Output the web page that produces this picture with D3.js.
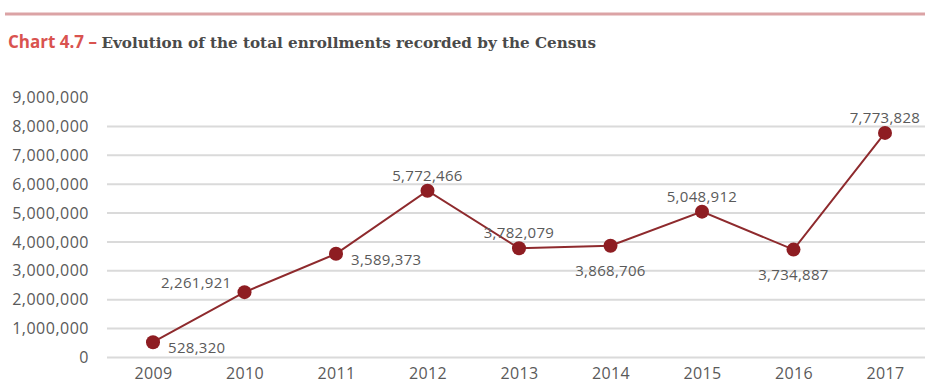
<!DOCTYPE html>
<html><head><meta charset="utf-8">
<script src="https://cdn.jsdelivr.net/npm/d3@7"></script>
<style>body{margin:0;background:#fff;}svg{display:block;}</style>
</head><body>
<script>
const years = ["2009","2010","2011","2012","2013","2014","2015","2016","2017"];
const enrollments = [528320, 2261921, 3589373, 5772466, 3782079, 3868706, 5048912, 3734887, 7773828];
const yTicks = [0,1000000,2000000,3000000,4000000,5000000,6000000,7000000,8000000,9000000];
const labelSide = ["right","left","right","above","above","below","above","below","above"];

const W = 925, H = 383;
const svg = d3.select("body").append("svg").attr("width", W).attr("height", H);

// top rule
svg.append("line").attr("x1",5).attr("x2",W).attr("y1",14).attr("y2",14)
  .attr("stroke","#dba3a5").attr("stroke-width",3);

// title
const t = svg.append("text").attr("x",8).attr("y",48);
t.append("tspan").text("Chart 4.7 – ").attr("fill","#d9534f").attr("font-family","Open Sans, sans-serif").attr("font-weight","bold").attr("font-size",17);
t.append("tspan").text("Evolution of the total enrollments recorded by the Census").attr("fill","#4a4a4a").attr("font-family","DejaVu Serif, serif").attr("font-weight","bold").attr("font-size",15.2);

const y = d3.scaleLinear().domain([0, 9000000]).range([357.5, 97.5]);
const x = d3.scalePoint().domain(years).range([153, 885]);

// gridlines (no line at top tick)
svg.append("g").selectAll("line").data(yTicks.filter(v => v < 9000000)).join("line")
  .attr("x1",107).attr("x2",W).attr("y1",d=>y(d)).attr("y2",d=>y(d))
  .attr("stroke","#dadada").attr("stroke-width",2);

// y axis
const fmt = d3.format(",");
const yAxis = d3.axisLeft(y).tickValues(yTicks).tickFormat(fmt).tickSize(0).tickPadding(0);
const gy = svg.append("g").attr("transform","translate(89,0)").call(yAxis);
gy.select(".domain").remove();
gy.selectAll("text").attr("font-family","Open Sans, sans-serif").attr("font-size",16).attr("letter-spacing",0.5).attr("fill","#5a5a5a");

// x axis
const xAxis = d3.axisBottom(x).tickSize(0).tickPadding(0);
const gx = svg.append("g").attr("transform","translate(0,368)").call(xAxis);
gx.select(".domain").remove();
gx.selectAll("text").attr("font-family","Open Sans, sans-serif").attr("font-size",16).attr("letter-spacing",0.3).attr("fill","#5a5a5a");

const data = years.map((yr,i)=>({yr, v:enrollments[i], side:labelSide[i]}));

// line
svg.append("path").datum(data)
  .attr("d", d3.line().x(d=>x(d.yr)).y(d=>y(d.v)))
  .attr("fill","none").attr("stroke","#8e2a2d").attr("stroke-width",2);

// points
svg.append("g").selectAll("circle").data(data).join("circle")
  .attr("cx",d=>x(d.yr)).attr("cy",d=>y(d.v)).attr("r",7).attr("fill","#8e1d22");

// labels
const off = {
  right:{dx:15, dy:11, anchor:"start"},
  left:{dx:-13, dy:-4, anchor:"end"},
  above:{dx:0, dy:-10, anchor:"middle"},
  below:{dx:0, dy:30, anchor:"middle"}
};
svg.append("g").selectAll("text").data(data).join("text")
  .attr("x",d=>x(d.yr)+off[d.side].dx)
  .attr("y",d=>y(d.v)+off[d.side].dy)
  .attr("text-anchor",d=>off[d.side].anchor)
  .attr("font-family","Open Sans, sans-serif").attr("font-size",15).attr("letter-spacing",0.3).attr("fill","#5a5a5a")
  .text(d=>fmt(d.v));
</script>
</body></html>
